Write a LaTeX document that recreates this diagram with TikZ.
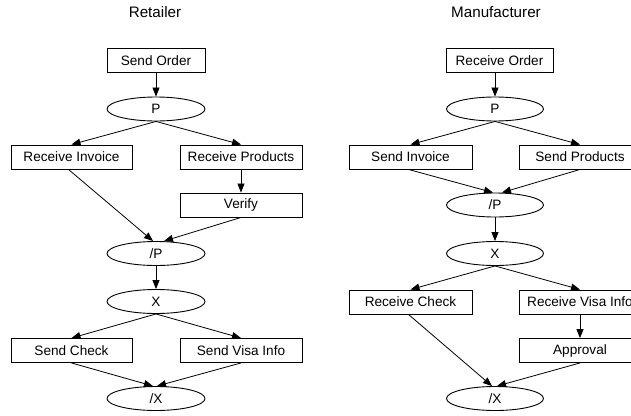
\documentclass[tikz,border=0pt]{standalone}
\usepackage{fontspec}
\setmainfont{Liberation Sans}
\usetikzlibrary{shapes.geometric,arrows.meta}
\begin{document}
\begin{tikzpicture}[x=1pt,y=-1pt,
  lbl/.style={font=\fontsize{15.2}{18}\selectfont, inner sep=0pt},
  box/.style={draw, rectangle, minimum height=24pt, inner sep=0pt, line width=0.9pt, font=\fontsize{13.6}{16}\selectfont},
  gate/.style={draw, ellipse, minimum width=98pt, minimum height=24pt, inner sep=0pt, line width=0.9pt, font=\fontsize{13.6}{16}\selectfont},
  arr/.style={-{Triangle[length=9pt,width=7pt]}, line width=0.8pt}]
\useasboundingbox (0,0) rectangle (631,415);
\clip (0,0) rectangle (631,415);
% Retailer
\node[lbl] (t1) at (155,12) {Retailer};
\node[box, minimum width=98pt] (so) at (156,60.5) {Send Order};
\node[gate] (p1) at (156,109) {P};
\node[box, minimum width=121pt] (ri) at (71.5,157) {Receive Invoice};
\node[box, minimum width=122pt] (rp) at (241,157) {Receive Products};
\node[box, minimum width=122pt] (ve) at (241,205) {Verify};
\node[gate] (pp1) at (156,253.5) {/P};
\node[gate] (x1) at (156,301.5) {X};
\node[box, minimum width=121pt] (sc) at (71.5,350.5) {Send Check};
\node[box, minimum width=122pt] (sv) at (241,350.5) {Send Visa Info};
\node[gate] (xx1) at (156,398.5) {/X};
\draw[arr] (so.south) -- (p1.north);
\draw[arr] (p1.south) -- (ri.north);
\draw[arr] (p1.south) -- (rp.north);
\draw[arr] (rp.south) -- (ve.north);
\draw[arr] ([xshift=-3pt]ri.south) -- ([xshift=-3pt]pp1.north);
\draw[arr] (ve.south) -- ([xshift=8pt]pp1.north);
\draw[arr] (pp1.south) -- (x1.north);
\draw[arr] (x1.south) -- (sc.north);
\draw[arr] (x1.south) -- (sv.north);
\draw[arr] (sc.south) -- ([xshift=-3pt]xx1.north);
\draw[arr] (sv.south) -- ([xshift=1pt]xx1.north);
% Manufacturer
\node[lbl] (t2) at (496,12) {Manufacturer};
\node[box, minimum width=107pt] (ro) at (499.5,60.5) {Receive Order};
\node[gate, minimum width=97pt] (p2) at (495,109) {P};
\node[box, minimum width=123pt] (si) at (410.5,157) {Send Invoice};
\node[box, minimum width=122pt] (sp) at (580,157) {Send Products};
\node[gate, minimum width=97pt] (pp2) at (495,205) {/P};
\node[gate, minimum width=97pt] (x2) at (495,253.5) {X};
\node[box, minimum width=123pt] (rc) at (410.5,302) {Receive Check};
\node[box, minimum width=122pt] (rv) at (580,302) {Receive Visa Info};
\node[box, minimum width=122pt] (ap) at (580,350.5) {Approval};
\node[gate, minimum width=97pt] (xx2) at (495,398.5) {/X};
\draw[arr] (p2.north |- ro.south) -- (p2.north);
\draw[arr] (p2.south) -- (si.north);
\draw[arr] (p2.south) -- (sp.north);
\draw[arr] ([xshift=-2pt]si.south) -- ([xshift=-2pt]pp2.north);
\draw[arr] (sp.south) -- ([xshift=7pt]pp2.north);
\draw[arr] (pp2.south) -- (x2.north);
\draw[arr] (x2.south) -- (rc.north);
\draw[arr] (x2.south) -- (rv.north);
\draw[arr] (rv.south) -- (ap.north);
\draw[arr] ([xshift=-2pt]rc.south) -- ([xshift=-3pt]xx2.north);
\draw[arr] (ap.south) -- ([xshift=2pt]xx2.north);
\end{tikzpicture}
\end{document}
